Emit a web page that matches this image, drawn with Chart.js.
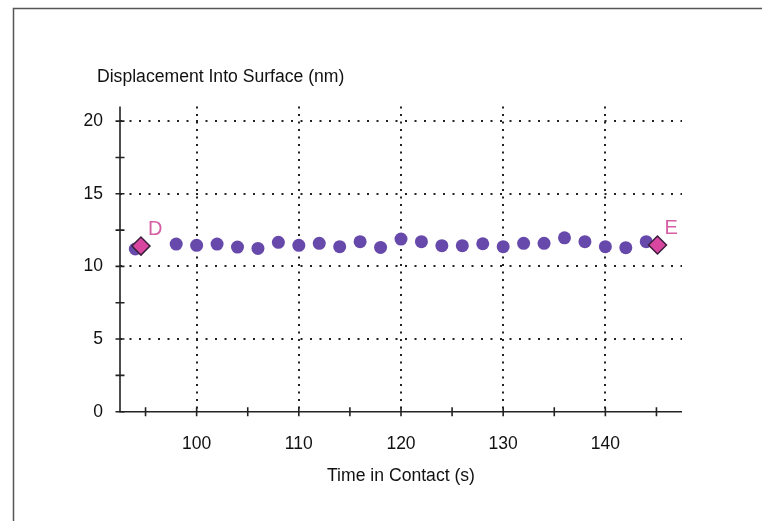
<!DOCTYPE html>
<html>
<head>
<meta charset="utf-8">
<script src="https://cdn.jsdelivr.net/npm/chart.js@4/dist/chart.umd.min.js"></script>
<style>
  html, body { margin: 0; padding: 0; background: #fff; }
  canvas { display: block; }
</style>
</head>
<body>
<canvas id="chart" width="762" height="521"></canvas>
<script>
// measured points (s, nm)
var times = [94, 98, 100, 102, 104, 106, 108, 110, 112, 114, 116, 118, 120,
             122, 124, 126, 128, 130, 132, 134, 136, 138, 140, 142, 144];
var disp = [11.2, 11.54, 11.45, 11.54, 11.33, 11.24, 11.66, 11.45, 11.59, 11.36, 11.7, 11.31, 11.88,
            11.7, 11.43, 11.43, 11.56, 11.36, 11.59, 11.59, 11.97, 11.7, 11.36, 11.29, 11.7];

// segment markers
var markerNames = ['D', 'E'];
var markerTimes = [94.55, 145.1];
var markerDisp = [11.4, 11.47];

// axis ticks
var xMajor = [100, 110, 120, 130, 140];
var xMinor = [95, 105, 115, 125, 135, 145];
var yMajor = [0, 5, 10, 15, 20];
var yMinor = [2.5, 7.5, 12.5, 17.5];

var yTitle = 'Displacement Into Surface (nm)';
var xTitle = 'Time in Contact (s)';

var FONT = '"Liberation Sans", Arial, sans-serif';

var axesPlugin = {
  id: 'axesPlugin',
  beforeDraw: function(chart) {
    var ctx = chart.ctx;
    ctx.save();
    // frame
    ctx.strokeStyle = '#555';
    ctx.lineWidth = 1.5;
    ctx.beginPath();
    ctx.moveTo(13.5, 521);
    ctx.lineTo(13.5, 8.5);
    ctx.lineTo(762, 8.5);
    ctx.stroke();
    // y title
    ctx.fillStyle = '#111';
    ctx.font = '17.6px ' + FONT;
    ctx.textBaseline = 'middle';
    ctx.textAlign = 'left';
    ctx.fillText(yTitle, 97, 77);
    ctx.restore();
  },
  afterDraw: function(chart) {
    var ctx = chart.ctx;
    var xs = chart.scales.x, ys = chart.scales.y;
    var area = chart.chartArea;
    ctx.save();
    ctx.strokeStyle = '#222';
    ctx.lineWidth = 1.6;
    ctx.beginPath();
    ctx.moveTo(area.left, area.top);
    ctx.lineTo(area.left, area.bottom);
    ctx.lineTo(area.right, area.bottom);
    ctx.stroke();
    ctx.beginPath();
    xMajor.concat(xMinor).forEach(function(v) {
      var p = xs.getPixelForValue(v);
      ctx.moveTo(p, area.bottom - 4.5);
      ctx.lineTo(p, area.bottom + 4.5);
    });
    yMajor.concat(yMinor).forEach(function(v) {
      var p = ys.getPixelForValue(v);
      ctx.moveTo(area.left - 4.5, p);
      ctx.lineTo(area.left + 4.5, p);
    });
    ctx.stroke();

    // D / E labels
    var meta = chart.getDatasetMeta(0);
    ctx.fillStyle = '#d65fa3';
    ctx.font = '20px ' + FONT;
    ctx.textBaseline = 'middle';
    ctx.textAlign = 'left';
    meta.data.forEach(function(pt, i) {
      ctx.fillText(markerNames[i], pt.x + 7, pt.y - 17);
    });
    ctx.restore();
  }
};

new Chart(document.getElementById('chart').getContext('2d'), {
  type: 'scatter',
  data: {
    datasets: [
      {
        label: 'markers',
        data: markerTimes.map(function(t, i) { return { x: t, y: markerDisp[i] }; }),
        pointStyle: 'rectRot',
        pointRadius: 9,
        backgroundColor: '#d8469f',
        borderColor: '#3a1f3c',
        borderWidth: 1.5,
        order: 0
      },
      {
        label: 'Displacement',
        data: times.map(function(t, i) { return { x: t, y: disp[i] }; }),
        pointStyle: 'circle',
        pointRadius: 6.5,
        backgroundColor: '#6649ab',
        borderColor: '#6649ab',
        borderWidth: 0,
        order: 1
      }
    ]
  },
  options: {
    responsive: false,
    animation: false,
    devicePixelRatio: 1,
    layout: { padding: { left: 60, top: 106.6, right: 80, bottom: 29.3 } },
    plugins: {
      legend: { display: false },
      tooltip: { enabled: false }
    },
    scales: {
      x: {
        type: 'linear',
        min: 92.5,
        max: 147.5,
        afterFit: function(s) { s.height = 80; },
        ticks: {
          stepSize: 10,
          includeBounds: false,
          padding: 22,
          color: '#111',
          font: { family: FONT, size: 17.5 }
        },
        grid: {
          drawTicks: false,
          lineWidth: 2,
          color: function(c) { return xMajor.indexOf(c.tick && c.tick.value) >= 0 ? '#222' : 'rgba(0,0,0,0)'; }
        },
        border: { display: false, dash: [2, 5.5] },
        title: {
          display: true,
          text: xTitle,
          color: '#111',
          font: { family: FONT, size: 17.6 },
          padding: { top: 0, bottom: 4.5 }
        }
      },
      y: {
        type: 'linear',
        min: 0,
        max: 21,
        afterFit: function(s) { s.width = 60; },
        ticks: {
          stepSize: 5,
          includeBounds: false,
          padding: 17,
          color: '#111',
          font: { family: FONT, size: 17.5 }
        },
        grid: {
          drawTicks: false,
          lineWidth: 2,
          color: function(c) { var v = c.tick && c.tick.value; return v > 0 && yMajor.indexOf(v) >= 0 ? '#222' : 'rgba(0,0,0,0)'; }
        },
        border: { display: false, dash: [2, 7.5] }
      }
    }
  },
  plugins: [axesPlugin]
});
</script>
</body>
</html>
